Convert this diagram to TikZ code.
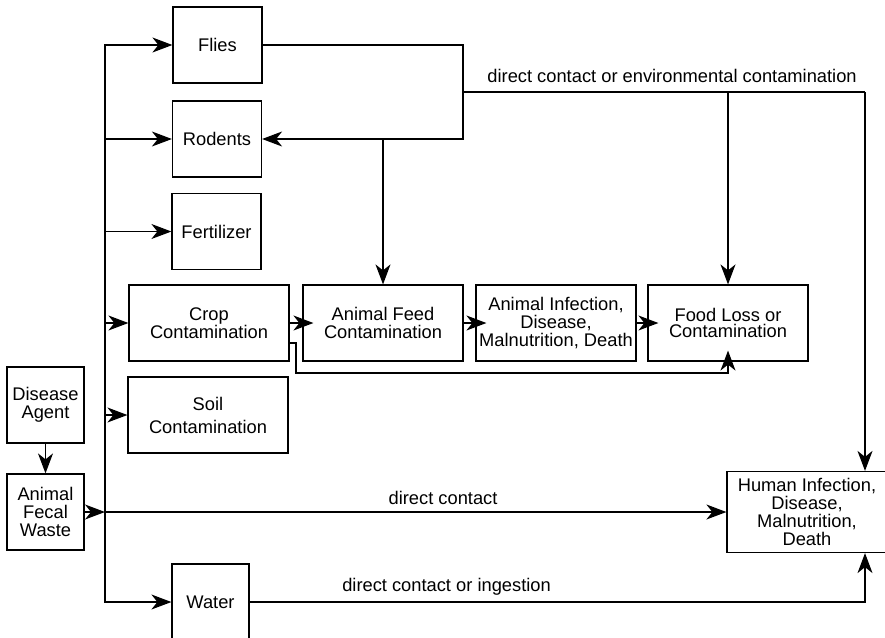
\documentclass[tikz,border=0pt]{standalone}
\usepackage{fontspec}
\setmainfont{Liberation Sans}
\usetikzlibrary{arrows.meta}

\begin{document}
\begin{tikzpicture}[
    x=1pt,y=-1pt,
    every node/.style={font=\fontsize{18.3}{18}\selectfont,align=center},
    box/.style={draw,line width=1.2pt,inner sep=0pt,minimum width=160pt,minimum height=76pt},
    smallbox/.style={box,minimum width=89pt},
    sidebox/.style={box,minimum width=77pt},
    tight/.style={font=\fontsize{18.3}{16.5}\selectfont},
    loose/.style={font=\fontsize{18.3}{23}\selectfont},
    link/.style={draw,line width=1.2pt},
    arr/.style={link,-{Stealth[length=20pt,width=15pt,inset=6pt]}},
    into/.style={arr,shorten >=-11pt}
  ]
    \useasboundingbox (0,0) rectangle (885,637);
    \node[smallbox] (flies) at (217.5,45) {Flies};
    \node[smallbox] (rodents) at (217,139) {Rodents};
    \node[smallbox] (fertilizer) at (216.5,231.5) {Fertilizer};
    \node[box,tight] (crop) at (209,323) {Crop\\Contamination};
    \node[box] (feed) at (383,323) {Animal Feed\\Contamination};
    \node[box] (animal) at (556,323) {Animal Infection,\\Disease,\\Malnutrition, Death};
    \node[box,tight] (foodloss) at (728,323) {Food Loss or\\Contamination};
    \node[box,loose] (soil) at (208,415) {Soil\\Contamination};
    \node[sidebox] (agent) at (45.5,405) {Disease\\Agent};
    \node[sidebox] (waste) at (45.5,512) {Animal\\Fecal\\Waste};
    \node[box,minimum height=81pt] (human) at (807,512) {Human Infection,\\Disease,\\Malnutrition,\\Death};
    \node[sidebox] (water) at (210.5,602) {Water};
    \coordinate (trunktop) at (105,45);
    \coordinate (split) at (463,92);
    \coordinate (hx) at (865,92);
    \coordinate (cropbend) at (296,373);
    % trunk out of the waste
    \draw[arr] (water -| trunktop) |- (flies);
    \draw[arr] (trunktop) |- (water);
    \draw[arr] (trunktop |- rodents) -- (rodents);
    \draw[arr] (trunktop |- fertilizer) -- (fertilizer);
    \draw[arr] (trunktop |- crop) -- (crop);
    \draw[arr] (trunktop |- soil) -- (soil);
    \draw[arr] (agent) -- (waste);
    \draw[arr] (waste) -- (waste -| trunktop);
    \draw[arr] (waste -| trunktop) -- node[above=3pt,pos=0.544]{direct contact} (human);
    % flies and rodents
    \draw[arr] (flies) -| (split) |- (rodents);
    \draw[link] (split) -- node[above=5pt,pos=0.52]{direct contact or environmental contamination} (hx);
    \draw[arr] (hx) -- (human.north -| hx);
    \draw[arr] (split -| foodloss) -- (foodloss);
    \draw[arr] (rodents -| feed) -- (feed);
    % food chain
    \draw[into] (crop) -- (feed);
    \draw[into] (feed) -- (animal);
    \draw[into] (animal) -- (foodloss);
    \draw[into] ([yshift=-20pt]crop.east) -| (cropbend) -| (foodloss);
    \draw[arr] (water) -| node[above=3pt,pos=0.16]{direct contact or ingestion} (human.south -| hx);
  \end{tikzpicture}
\end{document}
